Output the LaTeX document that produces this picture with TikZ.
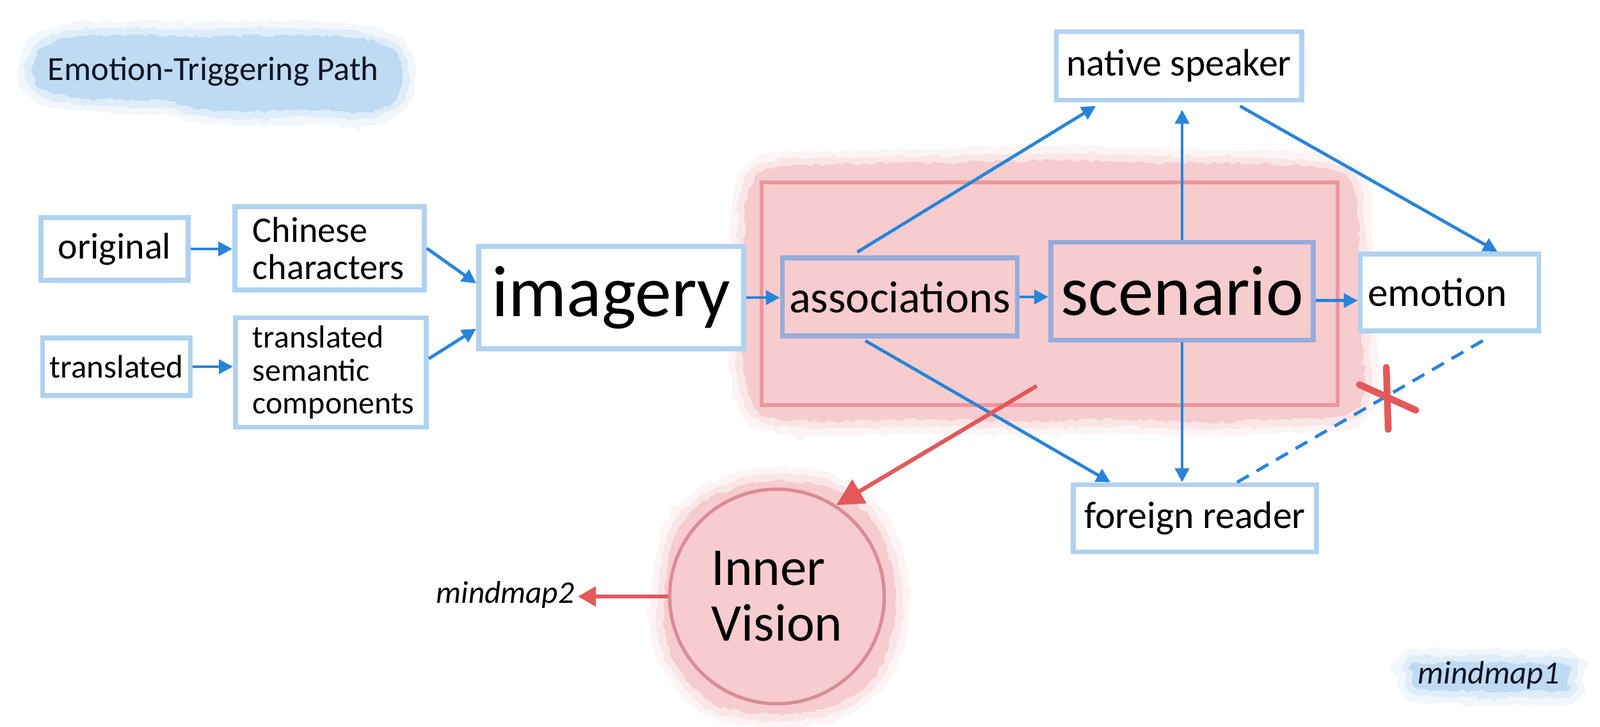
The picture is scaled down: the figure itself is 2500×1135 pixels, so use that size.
\documentclass[tikz,border=0pt]{standalone}
\usepackage{fontspec}
\setmainfont{Carlito}
\usetikzlibrary{arrows.meta,calc,decorations.pathmorphing}
\definecolor{boxblue}{RGB}{176,210,240}
\definecolor{inblue}{RGB}{150,172,218}
\definecolor{arrblue}{RGB}{40,132,218}
\definecolor{blobblue}{RGB}{190,219,243}
\definecolor{pinkfill}{RGB}{246,204,206}
\definecolor{pinkedge}{RGB}{238,150,155}
\definecolor{redarr}{RGB}{228,88,90}
\definecolor{circedge}{RGB}{218,140,150}
\definecolor{inktext}{RGB}{15,20,35}
\newcommand\fsz[2]{\fontsize{#1}{#2}\selectfont}
\newcommand\wcblob[2]{%
  \fill[#1, wblob] plot[smooth cycle] coordinates {#2};
  \draw[#1, wblob, line width=12pt, opacity=0.2] plot[smooth cycle] coordinates {#2};
  \draw[#1, wblob, line width=6pt, opacity=0.35] plot[smooth cycle] coordinates {#2};
}
\tikzset{
  wblob/.style={decorate, decoration={random steps, segment length=2pt, amplitude=0.8pt}},
  bbox/.style={draw=boxblue, line width=2.2pt, fill=white, inner sep=0pt},
  ibox/.style={draw=inblue, line width=2.2pt, inner sep=0pt},
  arr/.style={draw=arrblue, line width=1.4pt, -{Triangle[length=0.22cm,width=0.22cm]}},
  redarrow/.style={draw=redarr, line width=1.8pt},
  redx/.style={draw=redarr, line width=3pt, line cap=round},
}
\begin{document}
\begin{tikzpicture}[x=0.01cm,y=-0.01cm]
\useasboundingbox[fill=white] (0,0) rectangle (2500,1135);

% ---- watercolour blobs
\wcblob{blobblue}{(50,112) (65,75) (115,58) (200,55) (320,57) (440,55) (560,60) (615,78) (628,115) (618,155) (575,175) (480,172) (380,175) (300,168) (260,157) (200,157) (120,152) (68,140)}
\wcblob{blobblue}{(2210,1038) (2300,1035) (2400,1037) (2448,1040) (2450,1060) (2445,1077) (2350,1080) (2250,1078) (2212,1074) (2208,1055)}
\wcblob{pinkfill}{(1170,295) (1210,262) (1350,256) (1500,254) (1650,250) (1800,254) (1950,256) (2075,264) (2115,295) (2125,400) (2128,520) (2132,615) (2100,650) (2000,655) (1880,660) (1750,655) (1600,658) (1450,655) (1300,658) (1195,650) (1165,600) (1160,480) (1163,380)}
\wcblob{pinkfill}{(1042,900) (1060,825) (1115,775) (1200,752) (1295,762) (1360,808) (1393,880) (1398,970) (1370,1052) (1305,1103) (1210,1116) (1115,1100) (1060,1045) (1037,980)}

% ---- zone rectangle
\node[draw=pinkedge, line width=1.8pt, minimum width=9.00cm, minimum height=3.48cm, inner sep=0pt] (zone) at (1640,459) {};

% ---- titles
\node[anchor=base west, inner sep=0pt, text=inktext, font=\fsz{15}{15}] (title) at (74,125) {Emotion-Triggering Path};
\node[anchor=base west, inner sep=0pt, text=inktext, font=\fsz{14.4}{14.4}\itshape] (mm1) at (2215,1068) {mindmap1};
\node[anchor=base east, inner sep=0pt, font=\fsz{14}{14}\itshape] (mm2) at (898,942) {mindmap2};

% ---- boxes
\node[bbox, minimum width=2.30cm, minimum height=0.98cm, font=\fsz{16.5}{16.5}] (orig) at (179,389) {original};
\node[bbox, text width=2.40cm, inner xsep=0.28cm, minimum height=1.30cm, align=left, font=\fsz{16}{16.3}] (chin) at (515,388) {Chinese\\characters};
\node[bbox, minimum width=2.31cm, minimum height=0.90cm, font=\fsz{14.5}{14.5}] (trans) at (182,573) {translated};
\node[bbox, text width=2.44cm, inner xsep=0.27cm, minimum height=1.71cm, align=left, font=\fsz{14.2}{14.6}] (tsc) at (517,582) {translated\\semantic\\components};
\node[bbox, minimum width=4.14cm, minimum height=1.60cm, font=\fsz{32.4}{32.4}] (img) at (955,465) {imagery};
\node[ibox, minimum width=3.67cm, minimum height=1.22cm, font=\fsz{20}{20}] (assoc) at (1406,464) {associations};
\node[ibox, minimum width=4.10cm, minimum height=1.53cm, font=\fsz{31.5}{31.5}] (scen) at (1847,455) {scenario};
\node[bbox, text width=2.55cm, inner xsep=0.12cm, minimum height=1.20cm, align=left, font=\fsz{18}{18}] (emo) at (2265,457) {emotion};
\node[bbox, minimum width=3.83cm, minimum height=1.07cm, font=\fsz{17}{17}] (native) at (1842,103) {native speaker};
\node[bbox, minimum width=3.80cm, minimum height=1.05cm, font=\fsz{17}{17}] (foreign) at (1867,810) {foreign reader};
\node[circle, draw=circedge, line width=1.5pt, fill=pinkfill, minimum size=3.35cm, inner sep=0pt, align=left, font=\fsz{23.6}{24.8}] (vision) at (1214,932) {Inner\\Vision};

% ---- blue connectors
\draw[arr] (orig.east) -- (orig.east -| chin.west);
\draw[arr] (trans.east) -- (trans.east -| tsc.west);
\draw[arr] (chin.east) -- (img.174);
\draw[arr] (tsc.8) -- (img.193);
\draw[arr] (img.east) -- (img.east -| assoc.west);
\draw[arr] (assoc.east) -- (assoc.east -| scen.west);
\draw[arr] (scen.-4) -- (scen.-4 -| emo.west);
\draw[arr, shorten <=0.1cm, shorten >=0.1cm] ($(assoc.north west)!0.3!(assoc.north east)$) -- ($(native.south west)!0.19!(native.south east)$);
\draw[arr, shorten >=0.11cm] (scen.north) -- (scen.north |- native.south);
\draw[arr, shorten <=0.11cm] ($(native.south west)!0.72!(native.south east)$) -- ($(emo.north west)!0.76!(emo.north east)$);
\draw[arr, shorten <=0.07cm] ($(assoc.south west)!0.34!(assoc.south east)$) -- ($(foreign.north west)!0.16!(foreign.north east)$);
\draw[arr] (scen.south) -- (scen.south |- foreign.north);
\coordinate (fr1) at ($(foreign.north west)!0.67!(foreign.north east)$);
\coordinate (em1) at ($(emo.south west)!0.75!(emo.south east)$);
\draw[draw=arrblue, line width=1.4pt, dash pattern=on 6pt off 4pt, shorten >=0.11cm] (fr1) -- (em1);

% ---- red cross on the dashed link
\coordinate (xm) at ($(fr1)!0.57!(em1)$);
\draw[redx] ($(xm)+(-39,-20)$) -- ($(xm)+(49,20)$);
\draw[redx] ($(xm)+(3,-47)$) -- ($(xm)+(6,50)$);

% ---- red connectors
\coordinate (rs) at (1620,603);
\draw[redarrow, -{Triangle[length=0.42cm,width=0.42cm]}] (rs) -- (vision.57);
\draw[redarrow, -{Triangle[length=0.28cm,width=0.3cm]}, shorten >=0.05cm] (vision.west) -- (vision.west -| mm2.east);
\end{tikzpicture}
\end{document}
